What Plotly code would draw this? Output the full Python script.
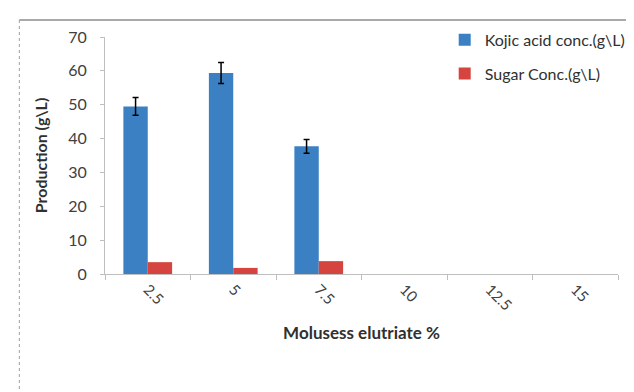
import plotly.graph_objects as go

categories = ["2.5", "5", "7.5", "10", "12.5", "15"]
kojic = [49.5, 59.4, 37.7, 0, 0, 0]
kojic_err = [2.6, 3.1, 2.0]  # error bars only shown for the first three bars
sugar = [3.5, 1.8, 3.8, 0, 0, 0]
y_ticks = [0, 10, 20, 30, 40, 50, 60, 70]

FONT = "Lato, 'Open Sans', sans-serif"

fig = go.Figure()
fig.add_trace(go.Bar(
    x=categories, y=kojic, name="Kojic acid conc.(g\\L)",
    marker=dict(color="#3B80C2", line=dict(width=0)),
    error_y=dict(type="data", array=kojic_err, visible=True, color="#000000",
                 thickness=1.5, width=3),
    legendgroup="a",
))
fig.add_trace(go.Bar(
    x=categories, y=sugar, name="Sugar Conc.(g\\L)",
    marker=dict(color="#D6443F", line=dict(width=0)),
    legendgroup="b",
))

fig.update_layout(
    width=634, height=392,
    margin=dict(l=97, r=16, t=29, b=126),
    paper_bgcolor="white", plot_bgcolor="white",
    barmode="group", bargap=0.43, bargroupgap=0,
    font=dict(family=FONT, size=15, color="#404040"),
    showlegend=True,
    legend=dict(x=(442 - 97) / 521, y=1.06, xanchor="left", yanchor="top",
                font=dict(family=FONT, size=16, color="#303030"),
                traceorder="grouped", tracegroupgap=10,
                itemwidth=30, bgcolor="rgba(0,0,0,0)"),
    xaxis=dict(
        type="category", tickangle=45, tickson="boundaries",
        ticks="outside", ticklen=5, tickcolor="#BFBFBF",
        showline=True, linecolor="#BFBFBF", linewidth=1,
        showgrid=False,
        tickfont=dict(family=FONT, size=15, color="#404040"),
        title=dict(text="<b>Molusess elutriate %</b>", standoff=14,
                   font=dict(family=FONT, size=17, color="#303030")),
    ),
    yaxis=dict(
        range=[0, 70], tickvals=y_ticks,
        ticks="outside", ticklen=4, tickcolor="#BFBFBF",
        showline=True, linecolor="#BFBFBF", linewidth=1,
        showgrid=False, zeroline=False, ticklabelstandoff=10,
        tickfont=dict(family=FONT, size=16, color="#404040"),
        title=dict(text="<b>Production (g\\L)</b>", standoff=16,
                   font=dict(family=FONT, size=16, color="#303030")),
    ),
)

# outer image frame lines
fig.add_shape(type="line", xref="paper", yref="paper",
              x0=(10 - 97) / 521, x1=(634 - 97) / 521,
              y0=(266 - 12) / 237, y1=(266 - 12) / 237,
              line=dict(color="#8C8C8C", width=1.5))
fig.add_shape(type="line", xref="paper", yref="paper",
              x0=(10 - 97) / 521, x1=(10 - 97) / 521,
              y0=(266 - 12) / 237, y1=(266 - 392) / 237,
              line=dict(color="#A0A0A0", width=1, dash="dot"))

fig.write_html("out.html")
